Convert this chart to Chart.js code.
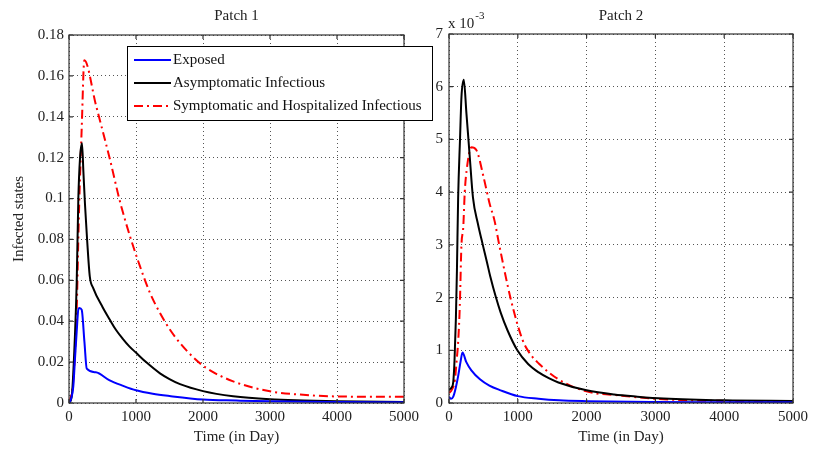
<!DOCTYPE html>
<html>
<head>
<meta charset="utf-8">
<script src="https://cdn.jsdelivr.net/npm/chart.js@4.4.0/dist/chart.umd.min.js"></script>
<style>
  html, body { margin: 0; padding: 0; background: #fff; }
  #wrap { position: relative; width: 813px; height: 455px; }
  #wrap canvas { position: absolute; left: 0; top: 0; }
</style>
</head>
<body>
<div id="wrap">
  <canvas id="patch2" width="813" height="455"></canvas>
  <canvas id="patch1" width="813" height="455"></canvas>
</div>
<script>
// series labels
const seriesLabels = ['Exposed', 'Asymptomatic Infectious', 'Symptomatic and Hospitalized Infectious'];

// x axis ticks (days)
const dayTicks = [0, 1000, 2000, 3000, 4000, 5000];

// Patch 1
const p1ExposedDays = [0, 30, 64, 90, 115, 140, 155, 190, 230, 265, 400, 600, 800, 1000, 1250, 1500, 2000, 2500, 3000, 4000, 5000];
const p1Exposed     = [0, 0.002, 0.008, 0.022, 0.035, 0.046, 0.0465, 0.0455, 0.030, 0.0168, 0.0150, 0.0112, 0.0085, 0.0062, 0.0045, 0.0034, 0.0017, 0.0012, 0.0008, 0.0005, 0.0004];

const p1AsymDays = [0, 40, 90, 115, 139, 165, 194, 215, 239, 270, 310, 363, 500, 612, 700, 800, 900, 1010, 1150, 1358, 1500, 1657, 2000, 2450, 3000, 3500, 4000, 5000];
const p1Asym     = [0, 0.003, 0.034, 0.059, 0.0995, 0.12, 0.127, 0.113, 0.097, 0.08, 0.062, 0.0561, 0.047, 0.0406, 0.0358, 0.0315, 0.0277, 0.0243, 0.0200, 0.0145, 0.0117, 0.0092, 0.0058, 0.0033, 0.0018, 0.0012, 0.0008, 0.0005];

const p1SympDays = [0, 15, 64, 115, 139, 152, 189, 229, 400, 612, 761, 911, 1060, 1209, 1358, 1500, 1657, 1850, 2050, 2450, 3000, 3450, 4000, 5000];
const p1Symp     = [0, 0.0015, 0.011, 0.0456, 0.08, 0.097, 0.1337, 0.1676, 0.146, 0.119, 0.0985, 0.0815, 0.0668, 0.0538, 0.044, 0.0362, 0.0293, 0.0225, 0.0171, 0.0106, 0.0057, 0.0041, 0.0032, 0.003];

const p1YTicks = [0, 0.02, 0.04, 0.06, 0.08, 0.1, 0.12, 0.14, 0.16, 0.18];

// Patch 2 - values in units of 1e-3 (axis shows "x 10^-3")
const p2ExposedDays = [0, 30, 62, 100, 133, 170, 196, 250, 325, 450, 587, 750, 1000, 1300, 1600, 2000, 3000, 4000, 5000];
const p2Exposed     = [0.12, 0.08, 0.12, 0.3, 0.51, 0.8, 0.96, 0.78, 0.62, 0.45, 0.33, 0.24, 0.13, 0.08, 0.05, 0.035, 0.02, 0.015, 0.012];

const p2AsymDays = [0, 40, 62, 80, 100, 115, 133, 160, 181, 215, 253, 300, 348, 420, 491, 550, 600, 683, 750, 850, 993, 1150, 1304, 1450, 1590, 2000, 2400, 2737, 3119, 4000, 5000];
const p2Asym     = [0.25, 0.3, 0.4, 0.8, 1.6, 2.5, 3.9, 5.0, 5.8, 6.13, 5.5, 4.7, 3.9, 3.4, 3.0, 2.68, 2.4, 2.0, 1.72, 1.38, 1.0, 0.74, 0.58, 0.47, 0.39, 0.24, 0.16, 0.12, 0.085, 0.05, 0.04];

const p2SympDays = [0, 40, 86, 111, 135, 157, 181, 207, 229, 255, 325, 397, 500, 587, 663, 730, 898, 1065, 1180, 1304, 1590, 2000, 2500, 3000, 3500, 4000, 5000];
const p2Symp     = [0.19, 0.25, 0.44, 0.8, 1.2, 1.84, 3.0, 3.33, 4.0, 4.4, 4.85, 4.8, 4.3, 3.8, 3.45, 3.0, 1.97, 1.21, 0.93, 0.75, 0.45, 0.22, 0.14, 0.08, 0.05, 0.04, 0.035];

const p2YTicks = [0, 1, 2, 3, 4, 5, 6, 7];

const serif = "'Liberation Serif', 'Times New Roman', serif";
Chart.defaults.font.family = serif;
Chart.defaults.font.size = 15;
Chart.defaults.color = '#222';

function toPoints(xs, ys) {
    return xs.map((x, i) => ({ x: x, y: ys[i] }));
}

function makeDatasets(eDays, e, aDays, a, sDays, s) {
    const common = { pointRadius: 0, borderWidth: 2, cubicInterpolationMode: 'monotone', fill: false };
    return [
        Object.assign({ label: seriesLabels[0], data: toPoints(eDays, e), borderColor: '#0000ff' }, common),
        Object.assign({ label: seriesLabels[1], data: toPoints(aDays, a), borderColor: '#000000' }, common),
        Object.assign({ label: seriesLabels[2], data: toPoints(sDays, s), borderColor: '#ff0000', borderDash: [9, 4, 2, 4] }, common)
    ];
}

// full axes box plus small inward ticks, matlab style
const axesBox = {
    id: 'axesBox',
    afterDatasetsDraw(chart) {
        const { ctx, chartArea: a, scales } = chart;
        ctx.save();
        ctx.strokeStyle = '#333';
        ctx.lineWidth = 1.2;
        ctx.strokeRect(a.left, a.top, a.right - a.left, a.bottom - a.top);
        ctx.beginPath();
        scales.x.ticks.forEach(t => {
            const px = scales.x.getPixelForValue(t.value);
            ctx.moveTo(px, a.bottom); ctx.lineTo(px, a.bottom - 4);
            ctx.moveTo(px, a.top); ctx.lineTo(px, a.top + 4);
        });
        scales.y.ticks.forEach(t => {
            const py = scales.y.getPixelForValue(t.value);
            ctx.moveTo(a.left, py); ctx.lineTo(a.left + 4, py);
            ctx.moveTo(a.right, py); ctx.lineTo(a.right - 4, py);
        });
        ctx.stroke();
        ctx.restore();
    }
};

// boxed legend over patch 1
const boxLegend = {
    id: 'boxLegend',
    afterDraw(chart) {
        const ctx = chart.ctx;
        const x0 = 127, y0 = 46, w = 305, h = 74;
        ctx.save();
        ctx.fillStyle = '#fff';
        ctx.fillRect(x0, y0, w, h);
        ctx.strokeStyle = '#000';
        ctx.lineWidth = 1;
        ctx.strokeRect(x0 + 0.5, y0 + 0.5, w, h);
        chart.data.datasets.forEach((ds, i) => {
            const y = 60 + i * 23;
            ctx.beginPath();
            ctx.strokeStyle = ds.borderColor;
            ctx.lineWidth = 2;
            ctx.setLineDash(ds.borderDash || []);
            ctx.moveTo(134, y);
            ctx.lineTo(171, y);
            ctx.stroke();
            ctx.setLineDash([]);
            ctx.fillStyle = '#111';
            ctx.font = '15px ' + serif;
            ctx.textBaseline = 'middle';
            ctx.fillText(ds.label, 173, y);
        });
        ctx.restore();
    }
};

// "x 10^-3" multiplier above patch 2
const expLabel = {
    id: 'expLabel',
    afterDraw(chart) {
        const ctx = chart.ctx, a = chart.chartArea;
        ctx.save();
        ctx.fillStyle = '#222';
        ctx.textBaseline = 'alphabetic';
        ctx.font = '15px ' + serif;
        ctx.fillText('x 10', a.left - 1, 28);
        const w = ctx.measureText('x 10').width;
        ctx.font = '11px ' + serif;
        ctx.fillText('-3', a.left - 1 + w + 1, 19);
        ctx.restore();
    }
};

function gridOpts() {
    return { color: '#555', lineWidth: 1, drawTicks: false, borderDash: [1, 3] };
}

function xScale() {
    return {
        type: 'linear', min: 0, max: 5000,
        afterBuildTicks: s => { s.ticks = dayTicks.map(v => ({ value: v })); },
        afterFit: s => { s.height = 52; },
        grid: gridOpts(),
        border: { display: false, dash: [1, 3] },
        ticks: { padding: 5, color: '#222', callback: v => String(v), maxRotation: 0 },
        title: { display: true, text: 'Time (in Day)', color: '#222', padding: { top: 0, bottom: 9 }, font: { size: 15 } }
    };
}

function buildChart(id, datasets, yTicks, yMax, opts) {
    return new Chart(document.getElementById(id), {
        type: 'line',
        data: { datasets: datasets },
        options: {
            responsive: false,
            animation: false,
            layout: { padding: opts.padding },
            plugins: {
                legend: { display: false },
                tooltip: { enabled: false },
                title: {
                    display: true, text: opts.title, fullSize: false, color: '#222',
                    font: { size: 15, weight: 'normal' },
                    padding: { top: 7, bottom: opts.titleGap }
                }
            },
            scales: {
                x: xScale(),
                y: {
                    type: 'linear', min: 0, max: yMax,
                    afterBuildTicks: s => { s.ticks = yTicks.map(v => ({ value: v })); },
                    afterFit: s => { s.width = opts.yWidth; },
                    grid: gridOpts(),
                    border: { display: false, dash: [1, 3] },
                    ticks: { padding: opts.yPad, color: '#222', callback: v => String(Number(v.toFixed(2))) },
                    title: opts.yTitle
                        ? { display: true, text: opts.yTitle, color: '#222', padding: { top: 10, bottom: 0 }, font: { size: 15 } }
                        : { display: false }
                }
            }
        },
        plugins: opts.plugins
    });
}

buildChart('patch2',
    makeDatasets(p2ExposedDays, p2Exposed, p2AsymDays, p2Asym, p2SympDays, p2Symp),
    p2YTicks, 7,
    { title: 'Patch 2', padding: { left: 429, right: 15, top: 0, bottom: 0 }, titleGap: 9, yWidth: 20, yPad: 6, plugins: [axesBox, expLabel] });

buildChart('patch1',
    makeDatasets(p1ExposedDays, p1Exposed, p1AsymDays, p1Asym, p1SympDays, p1Symp),
    p1YTicks, 0.18,
    { title: 'Patch 1', padding: { left: 0, right: 409, top: 0, bottom: 0 }, titleGap: 10, yWidth: 69, yPad: 5, yTitle: 'Infected states', plugins: [axesBox, boxLegend] });
</script>
</body>
</html>
